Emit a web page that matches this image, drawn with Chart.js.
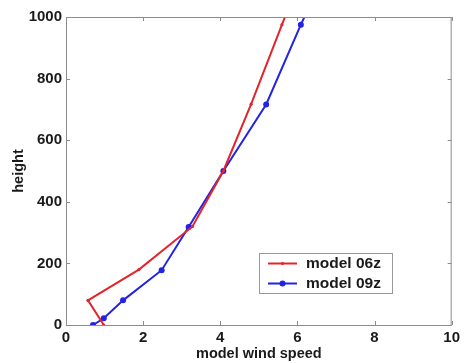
<!DOCTYPE html>
<html>
<head>
<meta charset="utf-8">
<script src="https://cdn.jsdelivr.net/npm/chart.js@4/dist/chart.umd.min.js"></script>
<style>
  html, body { margin: 0; padding: 0; background: #fff; }
  #wrap { width: 464px; height: 363px; position: relative; }
</style>
</head>
<body>
<div id="wrap"><canvas id="windChart" width="464" height="363"></canvas></div>
<script>
// --- data ---
const seriesNames = ['model 06z', 'model 09z'];
const height06 = [0, 80, 180, 320, 500, 717, 975, 1250];
const speed06 = [0.98, 0.57, 1.89, 3.28, 4.08, 4.80, 5.60, 6.45];
const height09 = [0, 22, 80, 178, 318, 500, 716, 975, 1250];
const speed09 = [0.70, 0.98, 1.48, 2.48, 3.18, 4.08, 5.19, 6.09, 7.10];
const xTicks = [0, 2, 4, 6, 8, 10];
const yTicks = [0, 200, 400, 600, 800, 1000];

const RED = '#e3242b';
const BLUE = '#2323e3';
const AXIS = '#8c8c8c';
const FONT = "'Liberation Sans', Arial, sans-serif";

const toPoints = (xs, ys) => xs.map((x, i) => ({ x: x, y: ys[i] }));

// box around the plot with inward ticks on every side (matlab style)
const boxTicks = {
    id: 'boxTicks',
    afterDatasetsDraw(chart) {
        const { ctx, chartArea: a, scales } = chart;
        ctx.save();
        ctx.strokeStyle = AXIS;
        ctx.lineWidth = 1;
        ctx.strokeRect(a.left + 0.5, a.top + 0.5, a.right - a.left - 1, a.bottom - a.top);
        ctx.beginPath();
        xTicks.forEach(v => {
            const px = Math.round(scales.x.getPixelForValue(v)) + 0.5;
            ctx.moveTo(px, a.bottom); ctx.lineTo(px, a.bottom - 4);
            ctx.moveTo(px, a.top); ctx.lineTo(px, a.top + 4);
        });
        yTicks.forEach(v => {
            const py = Math.round(scales.y.getPixelForValue(v)) + 0.5;
            ctx.moveTo(a.left, py); ctx.lineTo(a.left + 4, py);
            ctx.moveTo(a.right, py); ctx.lineTo(a.right - 4, py);
        });
        ctx.stroke();
        ctx.restore();
    }
};

// legend box sitting inside the plot, lower right
const boxLegend = {
    id: 'boxLegend',
    afterDraw(chart) {
        const { ctx } = chart;
        const x0 = 259, y0 = 253, w = 133, h = 40;
        ctx.save();
        ctx.fillStyle = '#fff';
        ctx.fillRect(x0, y0, w, h);
        ctx.strokeStyle = '#999';
        ctx.lineWidth = 1;
        ctx.strokeRect(x0 + 0.5, y0 + 0.5, w, h);
        chart.data.datasets.forEach((ds, i) => {
            const y = 263.5 + i * 20;
            ctx.strokeStyle = ds.borderColor;
            ctx.lineWidth = 2;
            ctx.beginPath();
            ctx.moveTo(268, y); ctx.lineTo(297, y);
            ctx.stroke();
            ctx.fillStyle = ds.borderColor;
            ctx.beginPath();
            ctx.arc(282.5, y, ds.pointRadius, 0, Math.PI * 2);
            ctx.fill();
            ctx.fillStyle = '#1a1a1a';
            ctx.font = 'bold 15.5px ' + FONT;
            ctx.textBaseline = 'middle';
            ctx.fillText(ds.label, 306, y + 0.5);
        });
        ctx.restore();
    }
};

new Chart(document.getElementById('windChart').getContext('2d'), {
    type: 'scatter',
    data: {
        datasets: [{
            label: seriesNames[0],
            data: toPoints(speed06, height06),
            showLine: true,
            borderColor: RED,
            backgroundColor: RED,
            borderWidth: 2,
            pointRadius: 1.6,
            pointBorderWidth: 0
        }, {
            label: seriesNames[1],
            data: toPoints(speed09, height09),
            showLine: true,
            borderColor: BLUE,
            backgroundColor: BLUE,
            borderWidth: 2,
            pointRadius: 3,
            pointBorderWidth: 0
        }]
    },
    options: {
        responsive: false,
        animation: false,
        layout: { padding: { top: 17, right: 8, left: 0, bottom: 0 } },
        plugins: { legend: { display: false }, tooltip: { enabled: false } },
        scales: {
            x: {
                type: 'linear', min: 0, max: 10,
                afterFit: s => { s.height = 38; },
                afterBuildTicks: s => { s.ticks = xTicks.map(v => ({ value: v })); },
                grid: { display: false, drawTicks: false },
                border: { display: false },
                ticks: {
                    color: '#1a1a1a', padding: 4,
                    font: { family: FONT, size: 15, weight: 'bold' },
                    callback: v => String(v)
                },
                title: {
                    display: true, text: 'model wind speed', color: '#1a1a1a', padding: 0,
                    font: { family: FONT, size: 14.5, weight: 'bold' }
                }
            },
            y: {
                type: 'linear', min: 0, max: 1000,
                afterFit: s => { s.width = 66; },
                afterBuildTicks: s => { s.ticks = yTicks.map(v => ({ value: v })); },
                grid: { display: false, drawTicks: false },
                border: { display: false },
                ticks: {
                    color: '#1a1a1a', padding: 4,
                    font: { family: FONT, size: 15, weight: 'bold' },
                    callback: v => String(v)
                },
                title: {
                    display: true, text: 'height', color: '#1a1a1a',
                    padding: { top: 10, bottom: 0 },
                    font: { family: FONT, size: 14.5, weight: 'bold' }
                }
            }
        }
    },
    plugins: [boxTicks, boxLegend]
});
</script>
</body>
</html>
